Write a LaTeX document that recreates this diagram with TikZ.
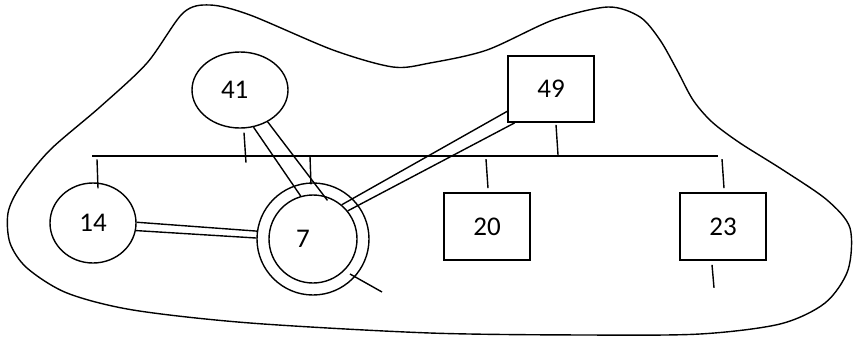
\documentclass[tikz,border=0pt]{standalone}
\usepackage{fontspec}
\setmainfont{Carlito}
\usetikzlibrary{shapes.geometric}

\begin{document}
\begin{tikzpicture}[x=1pt, y=-1pt, line width=1.4pt,
	oval/.style={ellipse, draw, inner sep=0pt},
	disc/.style={circle, draw, inner sep=0pt},
	box/.style={rectangle, draw, line width=1.6pt, minimum width=86pt, minimum height=67pt},
	every node/.append style={font=\fontsize{27}{32}\selectfont}]
	\useasboundingbox (0,0) rectangle (853,341);
	% outline of the region
	\draw plot[smooth cycle, tension=0.5] coordinates {(183,13) (210,5) (250,15) (333,50) (393,67) (430,63) (487,50) (553,20) (608,7) (640,17) (660,40) (677,70) (693,100) (712,122) (740,143) (783,170) (827,200) (850,228) (848,270) (825,303) (780,324) (700,334) (587,335) (430,333) (250,323) (133,310) (67,293) (27,268) (10,243) (8,213) (20,187) (50,150) (100,107) (147,63)};
	% nodes
	\node[oval, minimum width=96pt, minimum height=76pt, text width=38pt, align=left] (n41) at (240,90) {41};
	\node[oval, minimum width=86pt, minimum height=80pt] (n14) at (93,223) {14};
	\node[disc, minimum size=88pt, text width=34pt, align=left] (n7) at (313,239) {7};
	\node[disc, minimum size=112pt] (n7 ring) at (n7.center) {};
	\node[box, minimum height=66pt] (n49) at (551,89) {49};
	\node[box] (n20) at (487,226.5) {20};
	\node[box] (n23) at (723,226.5) {23};
	% bus line and stubs
	\coordinate (bus w) at (92,156);
	\coordinate (bus e) at (718,156);
	\draw [line width=1.7pt] (bus w) -- (bus e);
	\draw (n41.south) ++(4,4) -- ++(2,30);
	\draw (n14.north) ++(4,-23) -- ++(1,29);
	\draw (n7 ring.north) ++(-3,-26) -- ++(1,28);
	\draw (n49.south) ++(5,2) -- ++(2,30);
	\draw (n20.north) ++(-1,-33) -- ++(2,29);
	\draw (n23.north) ++(-1,-33) -- ++(2,29);
	\draw (n23.south) ++(-11,4) -- ++(2,23);
	\draw (n7.center) ++(37,35) -- ++(32,18);
	% double links
	\draw (n41.-70) -- (n7.106);
	\draw [shorten >=-6pt] (n41.-49) -- (n7.76);
	\draw (n14.1) -- (n7 ring.172);
	\draw (n14.-10) -- (n7 ring.179);
	\draw (n49.-153) -- (n7.50);
	\draw (n49.-137) -- (n7.39);
\end{tikzpicture}
\end{document}
